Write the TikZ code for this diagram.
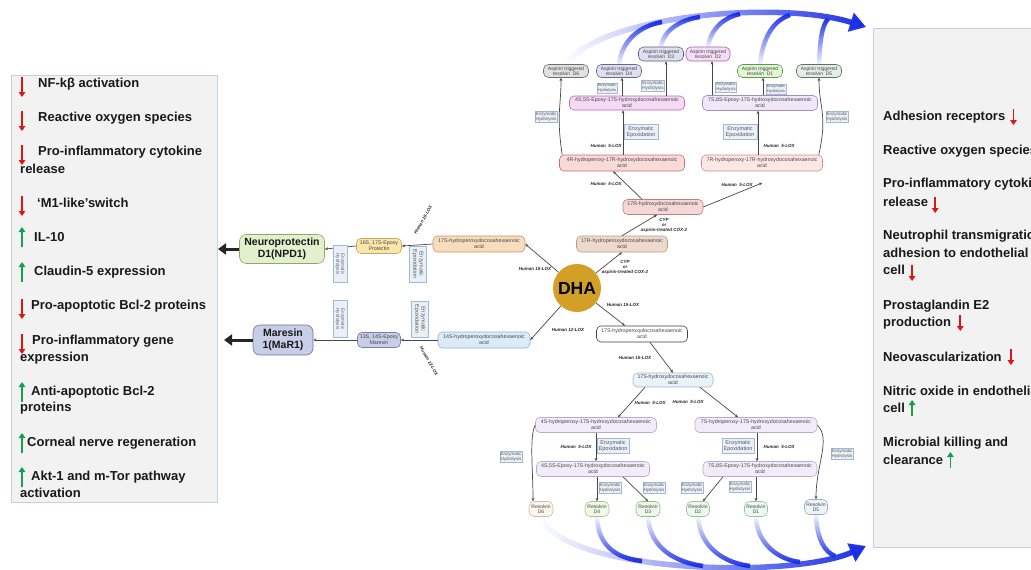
\documentclass[tikz,border=0pt]{standalone}
\usepackage{fontspec}
\setmainfont{Liberation Sans}
\usetikzlibrary{arrows.meta,fadings,calc}
\definecolor{panelf}{RGB}{242,242,242}
\definecolor{panelb}{RGB}{198,208,228}
\definecolor{enzf}{RGB}{234,240,248}
\definecolor{enzb}{RGB}{160,185,215}
\definecolor{arcblue}{RGB}{25,45,230}
\definecolor{dnred}{RGB}{225,20,20}
\definecolor{upgreen}{RGB}{20,160,80}
\definecolor{dhagold}{RGB}{210,160,38}
\begin{document}
\begin{tikzpicture}[x=1pt,y=-1pt,
  chem/.style={draw, rounded corners=4.5pt, line width=0.6pt, inner sep=0.5pt, align=center, text=black!72, font=\fontsize{5.3}{5.8}\selectfont},
  res/.style={chem, font=\fontsize{5}{5.5}\selectfont, rounded corners=5pt},
  enz/.style={draw=enzb, fill=enzf, line width=0.5pt, inner sep=0.8pt, align=center, text=black!65, font=\fontsize{4.5}{5}\selectfont},
  epx/.style={enz, font=\fontsize{5.5}{6.3}\selectfont, inner sep=1.2pt},
  lox/.style={font=\bfseries\itshape\fontsize{4.5}{5}\selectfont, text=black!85, align=center, inner sep=0pt},
  arr/.style={draw=black!72, line width=0.7pt, -{Stealth[length=3.2pt,width=2.8pt]}},
  big/.style={draw=black!85, line width=3pt, -{Triangle[length=8pt,width=11pt]}},
  item/.style={anchor=west, font=\bfseries\fontsize{13}{15}\selectfont, inner sep=0pt, text=black!90},
  panel/.style={fill=panelf, draw=panelb, line width=0.8pt},
  bluearc/.style={draw=arcblue, line width=5pt},
  dnL/.pic={\draw[dnred, line width=1.8pt, -{Triangle[length=5pt,width=6.5pt]}] (0,-10) -- (0,10);},
  upL/.pic={\draw[upgreen, line width=1.8pt, -{Triangle[length=5pt,width=6.5pt]}] (0,10) -- (0,-10);},
  dnS/.pic={\draw[dnred, line width=1.8pt, -{Triangle[length=5pt,width=6.5pt]}] (0,-8) -- (0,8);},
  upS/.pic={\draw[upgreen, line width=1.8pt, -{Triangle[length=5pt,width=6.5pt]}] (0,8) -- (0,-8);}
]
\clip (0,0) rectangle (1031,570);
\fill[white] (0,0) rectangle (1031,570);

% ---------- panels ----------
\draw[panel] (11,75) rectangle (217,502);
\draw[panel] (873,28) rectangle (1045,547);

% ---------- left list ----------
\node[item] (l1) at (38,84) {NF-kβ activation};
\node[item] (l2) at (38,118) {Reactive oxygen species};
\node[item] (l3a) at (38,152) {Pro-inflammatory cytokine};
\node[item] (l3b) at (20,169) {release};
\node[item] (l4) at (37,203) {‘M1-like’switch};
\node[item] (l5) at (34,237) {IL-10};
\node[item] (l6) at (34,272) {Claudin-5 expression};
\node[item] (l7) at (31,306) {Pro-apoptotic Bcl-2 proteins};
\node[item] (l8a) at (32,341) {Pro-inflammatory gene};
\node[item] (l8b) at (20,358) {expression};
\node[item] (l9a) at (31,392) {Anti-apoptotic Bcl-2};
\node[item] (l9b) at (20,408) {proteins};
\node[item] (l10) at (27,443) {Corneal nerve regeneration};
\node[item] (l11a) at (31,477) {Akt-1 and m-Tor pathway};
\node[item] (l11b) at (20,493) {activation};
\pic at (22,87) {dnL};
\pic at (22,121) {dnL};
\pic at (22,155) {dnL};
\pic at (22,206) {dnL};
\pic at (22,237) {upL};
\pic at (22,272) {upL};
\pic at (22,309) {dnL};
\pic at (22,344) {dnL};
\pic at (22,392) {upL};
\pic at (22,443) {upL};
\pic at (22,477) {upL};

% ---------- right list ----------
\node[item] (r1) at (883,117) {Adhesion receptors};
\node[item] (r2) at (883,151) {Reactive oxygen species};
\node[item] (r3a) at (883,184) {Pro-inflammatory cytokine};
\node[item] (r3b) at (883,202) {release};
\node[item] (r4a) at (883,236) {Neutrophil transmigration};
\node[item] (r4b) at (883,253) {adhesion to endothelial};
\node[item] (r4c) at (883,270) {cell};
\node[item] (r5a) at (883,306) {Prostaglandin E2};
\node[item] (r5b) at (883,323) {production};
\node[item] (r6) at (883,357) {Neovascularization};
\node[item] (r7a) at (883,391) {Nitric oxide in endothelial};
\node[item] (r7b) at (883,408) {cell};
\node[item] (r8a) at (883,443) {Microbial killing and};
\node[item] (r8b) at (883,460) {clearance};
\pic at ([xshift=8pt]r1.east) {dnS};
\pic at ([xshift=7pt,yshift=-3pt]r3b.east) {dnS};
\pic at ([xshift=7pt,yshift=-3pt]r4c.east) {dnS};
\pic at ([xshift=9pt]r5b.east) {dnS};
\pic at ([xshift=9pt]r6.east) {dnS};
\pic at ([xshift=7pt]r7b.east) {upS};
\pic at ([xshift=7pt]r8b.east) {upS};

% ---------- DHA and left branch ----------
\node[circle, fill=dhagold, minimum size=48pt, inner sep=0pt, font=\bfseries\fontsize{17.5}{18}\selectfont] (dha) at (577,288) {DHA};

\node[chem, fill={rgb,255:red,247;green,221;blue,190}, draw={rgb,255:red,200;green,150;blue,100}, minimum width=92pt, minimum height=16pt] (h17s) at (479,244) {17S-hydroperoxydocosahexaenoic\\acid};
\node[chem, fill={rgb,255:red,250;green,230;blue,170}, draw={rgb,255:red,200;green,170;blue,90}, minimum width=45pt, minimum height=15pt] (prot) at (379,246) {16S, 17S-Epoxy\\Protectin};
\node[chem, fill={rgb,255:red,226;green,240;blue,205}, draw={rgb,255:red,140;green,170;blue,100}, minimum width=85pt, minimum height=29pt, rounded corners=7pt, text=black!90, font=\bfseries\fontsize{10.5}{12}\selectfont] (npd1) at (282,249) {Neuroprotectin\\D1(NPD1)};
\node[chem, fill={rgb,255:red,220;green,235;blue,248}, draw={rgb,255:red,140;green,180;blue,215}, minimum width=92pt, minimum height=16pt] (h14s) at (484,340) {14S-hydroperoxydocosahexaenoic\\acid};
\node[chem, fill={rgb,255:red,200;green,205;blue,232}, draw={rgb,255:red,120;green,125;blue,170}, minimum width=43pt, minimum height=15pt] (marep) at (379,340) {13S, 14S-Epoxy\\Maresin};
\node[chem, fill={rgb,255:red,200;green,205;blue,232}, draw={rgb,255:red,110;green,115;blue,160}, minimum width=60pt, minimum height=30pt, rounded corners=7pt, text=black!90, font=\bfseries\fontsize{10.5}{12}\selectfont] (mar1) at (283,340) {Maresin\\1(MaR1)};

\draw[arr] (dha) -- (h17s.east);
\node[lox] (lx1) at (535,269) {Human 15-LOX};
\draw[arr] (h17s.west) -- (prot.east);
\node[lox, rotate=60] (lx2) at (423,220) {Human 15-LOX};
\node[epx, rotate=-90, minimum width=36pt, minimum height=17pt] (ep1) at (418,264) {Enzymatic\\Epoxidation};
\draw[arr] (prot.west) -- (npd1.east);
\node[enz, rotate=-90, minimum width=37pt, minimum height=14pt] (hy1) at (340,264) {Enzymatic\\Hydrolysis};
\coordinate (npdout) at (218,249);
\draw[big] (npd1.west) -- (npdout);

\draw[arr] (dha) -- (h14s.east);
\node[lox] (lx3) at (568,330) {Human 12-LOX};
\draw[arr] (h14s.west) -- (marep.east);
\node[epx, rotate=-90, minimum width=36pt, minimum height=17pt] (ep2) at (420,319) {Enzymatic\\Epoxidation};
\node[lox, rotate=-60] (lx4) at (429,361) {Human 12-LOX};
\draw[arr] (marep.west) -- (mar1.east);
\node[enz, rotate=-90, minimum width=37pt, minimum height=14pt] (hy2) at (340,319) {Enzymatic\\Hydrolysis};
\coordinate (marout) at (224,340);
\draw[big] (mar1.west) -- (marout);

% ---------- upper (aspirin-triggered) branch ----------
\node[chem, fill={rgb,255:red,238;green,218;blue,205}, draw={rgb,255:red,185;green,155;blue,140}, minimum width=91pt, minimum height=16pt] (h17r) at (622,244) {17R-hydroperoxydocosahexaenoic\\acid};
\node[chem, fill={rgb,255:red,245;green,215;blue,215}, draw={rgb,255:red,195;green,125;blue,125}, minimum width=80pt, minimum height=15pt] (oh17r) at (663,207) {17R-hydroxydocosahexaenoic\\acid};
\node[chem, fill={rgb,255:red,248;green,218;blue,216}, draw={rgb,255:red,200;green,110;blue,110}, minimum width=125pt, minimum height=16pt] (r4r) at (622,163) {4R-hydroperoxy-17R-hydroxydocosahexaenoic\\acid};
\node[chem, fill={rgb,255:red,252;green,230;blue,232}, draw={rgb,255:red,210;green,140;blue,140}, minimum width=121pt, minimum height=16pt] (r7r) at (762,163) {7R-hydroperoxy-17R-hydroxydocosahexaenoic\\acid};
\node[chem, fill={rgb,255:red,244;green,218;blue,244}, draw={rgb,255:red,180;green,110;blue,180}, minimum width=115pt, minimum height=14pt] (e45t) at (627,103) {4S,5S-Epoxy-17S-hydroxydocosahexaenoic\\acid};
\node[chem, fill={rgb,255:red,240;green,232;blue,248}, draw={rgb,255:red,165;green,140;blue,195}, minimum width=115pt, minimum height=15pt] (e78t) at (760,103) {7S,8S-Epoxy-17S-hydroxydocosahexaenoic\\acid};

\node[res, fill={rgb,255:red,225;green,225;blue,225}, draw={rgb,255:red,110;green,110;blue,110}, minimum width=45pt, minimum height=13pt] (atd6) at (566,71) {Aspirin triggered\\resolvin\ \ D6};
\node[res, fill={rgb,255:red,222;green,224;blue,240}, draw={rgb,255:red,100;green,105;blue,140}, minimum width=45pt, minimum height=13pt] (atd4) at (619,71) {Aspirin triggered\\resolvin\ \ D4};
\node[res, fill={rgb,255:red,222;green,224;blue,240}, draw={rgb,255:red,90;green,92;blue,130}, minimum width=45pt, minimum height=14pt] (atd3) at (661,54) {Aspirin triggered\\resolvin\ \ D3};
\node[res, fill={rgb,255:red,246;green,222;blue,246}, draw={rgb,255:red,165;green,95;blue,165}, minimum width=44pt, minimum height=14pt] (atd2) at (708,54) {Aspirin triggered\\resolvin\ \ D2};
\node[res, fill={rgb,255:red,225;green,245;blue,215}, draw={rgb,255:red,90;green,155;blue,75}, minimum width=45pt, minimum height=13pt] (atd1) at (760,71) {Aspirin triggered\\resolvin\ \ D1};
\node[res, fill={rgb,255:red,228;green,238;blue,230}, draw={rgb,255:red,95;green,115;blue,95}, minimum width=45pt, minimum height=13pt] (atd5) at (819,71) {Aspirin triggered\\resolvin\ \ D5};

\draw[arr] (dha) -- (h17r.south);
\node[lox] (cyp1) at (625,267) {CYP\\or\\aspirin-treated COX-2};
\draw[arr] (h17r.north) -- ([xshift=-6pt]oh17r.south);
\node[lox] (cyp2) at (664,225) {CYP\\or\\aspirin-treated COX-2};
\draw[arr] ([xshift=-21pt]oh17r.north) -- ([xshift=-9pt]r4r.south);
\node[lox] (lx5) at (606,184) {Human\ \ 5-LOX};
\coordinate (c7r) at (762,183);
\draw[arr] (oh17r.east) -- (c7r);
\node[lox] (lx6) at (737,185) {Human\ \ 5-LOX};

\draw[arr] ([xshift=1pt]r4r.north) -- ([xshift=1pt]r4r.north |- e45t.south);
\node[lox] (lx7) at (606,146) {Human\ \ 5-LOX};
\node[epx, minimum width=34pt, minimum height=15pt] (ep3) at (641,132) {Enzymatic\\Epoxidation};
\draw[arr] ([xshift=-4pt]r7r.north) -- ([xshift=-4pt]r7r.north |- e78t.south);
\node[lox] (lx8) at (779,146) {Human\ \ 5-LOX};
\node[epx, minimum width=34pt, minimum height=15pt] (ep4) at (740,132) {Enzymatic\\Epoxidation};

\draw[arr] ([xshift=3pt]r4r.north west) .. controls +(-6,-40) and +(0,30) .. ([xshift=-5pt]atd6.south);
\node[enz] (hy3) at (546,117) {Enzymatic\\Hydrolysis};
\draw[arr] ([xshift=-4pt]r7r.north east) .. controls +(9,-40) and +(0,30) .. (atd5.south);
\node[enz] (hy4) at (837,117) {Enzymatic\\Hydrolysis};

\draw[arr] ([xshift=3pt]atd4.south |- e45t.north) -- ([xshift=3pt]atd4.south);
\node[enz, font=\fontsize{4}{4.5}\selectfont] (hy5) at (607,88) {Enzymatic\\Hydrolysis};
\draw[arr] ([xshift=5pt]atd3.south |- e45t.north) -- ([xshift=5pt]atd3.south);
\node[enz, font=\fontsize{4.6}{5.2}\selectfont] (hy6) at (653,86) {Enzymatic\\Hydrolysis};
\draw[arr] ([xshift=4pt]atd2.south |- e78t.north) -- ([xshift=4pt]atd2.south);
\node[enz, font=\fontsize{4.2}{4.8}\selectfont] (hy7) at (726,87) {Enzymatic\\Hydrolysis};
\draw[arr] ([xshift=3pt]atd1.south |- e78t.north) -- ([xshift=3pt]atd1.south);
\node[enz, font=\fontsize{4}{4.5}\selectfont] (hy8) at (776,89) {Enzymatic\\Hydrolysis};

% ---------- lower branch ----------
\node[chem, fill=white, draw=black!75, minimum width=91pt, minimum height=16pt] (h17sb) at (642,334) {17S-hydroperoxydocosahexaenoic\\acid};
\node[chem, fill={rgb,255:red,234;green,242;blue,250}, draw={rgb,255:red,160;green,185;blue,210}, minimum width=80pt, minimum height=14pt] (oh17s) at (673,380) {17S-hydroxydocosahexaenoic\\acid};
\node[chem, fill={rgb,255:red,242;green,236;blue,250}, draw={rgb,255:red,185;green,170;blue,215}, minimum width=121pt, minimum height=15pt] (s4) at (596,425) {4S-hydroperoxy-17S-hydroxydocosahexaenoic\\acid};
\node[chem, fill={rgb,255:red,242;green,236;blue,250}, draw={rgb,255:red,185;green,170;blue,215}, minimum width=122pt, minimum height=15pt] (s7) at (756,425) {7S-hydroperoxy-17S-hydroxydocosahexaenoic\\acid};
\node[chem, fill={rgb,255:red,242;green,236;blue,250}, draw={rgb,255:red,185;green,170;blue,215}, minimum width=113pt, minimum height=15pt] (e45b) at (593,469) {4S,5S-Epoxy-17S-hydroxydocosahexaenoic\\acid};
\node[chem, fill={rgb,255:red,242;green,236;blue,250}, draw={rgb,255:red,185;green,170;blue,215}, minimum width=114pt, minimum height=15pt] (e78b) at (760,469) {7S,8S-Epoxy-17S-hydroxydocosahexaenoic\\acid};

\node[res, fill={rgb,255:red,252;green,246;blue,238}, draw={rgb,255:red,205;green,190;blue,165}, minimum width=24pt, minimum height=15pt] (rd6) at (541,509) {Resolvin\\D6};
\node[res, fill={rgb,255:red,240;green,248;blue,230}, draw={rgb,255:red,170;green,200;blue,145}, minimum width=24pt, minimum height=15pt] (rd4) at (597,509) {Resolvin\\D4};
\node[res, fill={rgb,255:red,238;green,248;blue,232}, draw={rgb,255:red,145;green,195;blue,130}, minimum width=24pt, minimum height=15pt] (rd3) at (648,509) {Resolvin\\D3};
\node[res, fill={rgb,255:red,236;green,248;blue,236}, draw={rgb,255:red,150;green,200;blue,150}, minimum width=23pt, minimum height=15pt] (rd2) at (698,509) {Resolvin\\D2};
\node[res, fill={rgb,255:red,236;green,248;blue,240}, draw={rgb,255:red,150;green,200;blue,160}, minimum width=23pt, minimum height=15pt] (rd1) at (756,509) {Resolvin\\D1};
\node[res, fill={rgb,255:red,236;green,244;blue,250}, draw={rgb,255:red,150;green,175;blue,200}, minimum width=23pt, minimum height=15pt] (rd5) at (816,507) {Resolvin\\D5};

\draw[arr] (dha) -- ([xshift=-17pt]h17sb.north);
\node[lox] (lx9) at (623,305) {Human 15-LOX};
\draw[arr] ([xshift=8pt]h17sb.south) -- (oh17s.north);
\node[lox] (lx10) at (635,358) {Human 15-LOX};
\draw[arr] ([xshift=-28pt]oh17s.south) -- ([xshift=22pt]s4.north);
\node[lox] (lx11) at (650,403) {Human\ \ 5-LOX};
\draw[arr] ([xshift=27pt]oh17s.south) -- ([xshift=-18pt]s7.north);
\node[lox] (lx12) at (688,402) {Human\ \ 5-LOX};

\draw[arr] (s4.south) -- (s4.south |- e45b.north);
\node[lox] (lx13) at (576,447) {Human\ \ 5-LOX};
\node[epx, minimum width=32pt, minimum height=15pt] (ep5) at (613,446) {Enzymatic\\Epoxidation};
\draw[arr] ([xshift=1pt]s7.south) -- ([xshift=1pt]s7.south |- e78b.north);
\node[lox] (lx14) at (779,447) {Human\ \ 5-LOX};
\node[epx, minimum width=32pt, minimum height=15pt] (ep6) at (738,446) {Enzymatic\\Epoxidation};

\draw[arr] (s4.west) .. controls +(-6,12) and +(0,-32) .. ([xshift=-8pt]rd6.north);
\node[enz] (hy9) at (511,457) {Enzymatic\\Hydrolysis};
\draw[arr] (s7.east) .. controls +(14,14) and +(0,-35) .. (rd5.north);
\node[enz] (hy10) at (842,454) {Enzymatic\\Hydrolysis};

\draw[arr] (rd4.north |- e45b.south) -- (rd4.north);
\node[enz] (hy11) at (610,488) {Enzymatic\\Hydrolysis};
\draw[arr] ([xshift=30pt]e45b.south) -- (rd3.north);
\node[enz] (hy12) at (654,488) {Enzymatic\\Hydrolysis};
\draw[arr] ([xshift=-37pt]e78b.south) -- ([xshift=5pt]rd2.north);
\node[enz] (hy13) at (692,488) {Enzymatic\\Hydrolysis};
\draw[arr] (rd1.north |- e78b.south) -- (rd1.north);
\node[enz] (hy14) at (740,487) {Enzymatic\\Hydrolysis};

% ---------- blue arcs (top) ----------
\draw[bluearc, line width=4.5pt, path fading=south] (atd4.north) .. controls (622,40) and (640,26) .. (662,22);
\draw[bluearc, line width=4.5pt, path fading=south] (atd3.north) .. controls (664,30) and (680,20) .. (700,17);
\draw[bluearc, line width=4.5pt, path fading=south] (atd2.north) .. controls (711,28) and (725,17) .. (740,14);
\draw[bluearc, line width=4.5pt, path fading=south] (atd1.north) .. controls (763,35) and (775,20) .. (790,15);
\draw[bluearc, line width=4.5pt, path fading=south] (atd5.north) .. controls (820,40) and (822,25) .. (828,19);
\draw[bluearc, line width=5.5pt, path fading=west, -{Triangle[length=16pt,width=19pt]}] (atd6.north) .. controls (600,15) and (780,0) .. (866,27);

% ---------- blue arcs (bottom) ----------
\draw[bluearc, line width=4.5pt, path fading=north] (rd4.south) .. controls (598,545) and (615,558) .. (642,561);
\draw[bluearc, line width=4.5pt, path fading=north] (rd3.south) .. controls (650,548) and (675,562) .. (703,566);
\draw[bluearc, line width=4.5pt, path fading=north] (rd2.south) .. controls (700,548) and (725,563) .. (750,566);
\draw[bluearc, line width=4.5pt, path fading=north] (rd1.south) .. controls (757,545) and (780,560) .. (800,562);
\draw[bluearc, line width=4.5pt, path fading=north] (rd5.south) .. controls (817,540) and (825,552) .. (835,556);
\draw[bluearc, line width=5.5pt, path fading=west, -{Triangle[length=16pt,width=19pt]}] (rd6.south) .. controls (560,572) and (790,580) .. (866,546);
\end{tikzpicture}
\end{document}
